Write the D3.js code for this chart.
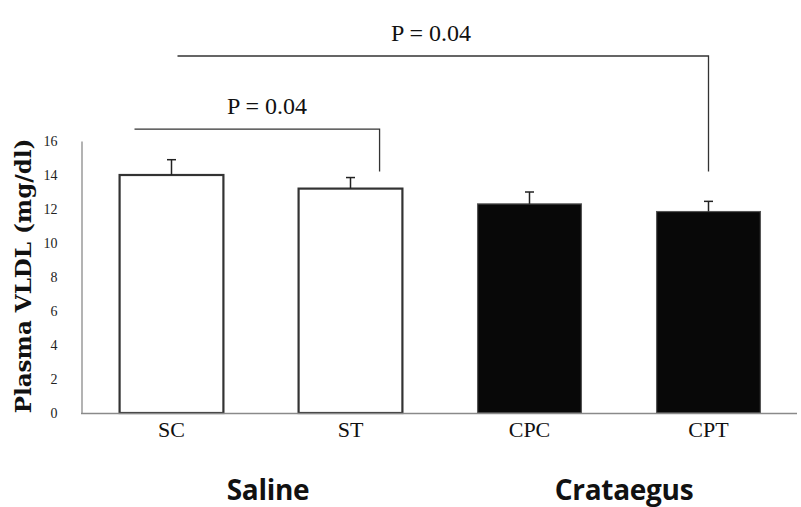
<!DOCTYPE html>
<html><head><meta charset="utf-8">
<script src="https://cdn.jsdelivr.net/npm/d3@7"></script>
<style>body{margin:0;background:#fff}svg{display:block}</style>
</head><body>
<script>
const categories = ["SC","ST","CPC","CPT"];
const values = [14.0, 13.2, 12.3, 11.85];
const errors = [0.9, 0.65, 0.7, 0.6];
const fills = ["#ffffff","#ffffff","#080808","#080808"];
const yTicks = [0,2,4,6,8,10,12,14,16];
const groups = [{label:"Saline", from:"SC", to:"ST"},{label:"Crataegus", from:"CPC", to:"CPT"}];
const comparisons = [
  {a:"SC", b:"ST", label:"P = 0.04", level:16.7},
  {a:"SC", b:"CPT", label:"P = 0.04", level:21.0}
];

const W=801,H=507;
const svg=d3.select("body").append("svg").attr("width",W).attr("height",H);
const y=d3.scaleLinear().domain([0,16]).range([413,141]);
const x=d3.scaleBand().domain(categories).range([82,798]).paddingInner(0.42).paddingOuter(0.21);

// axes
const yAxis=svg.append("g").attr("transform","translate(81.5,0)")
  .call(d3.axisLeft(y).tickValues(yTicks).tickSize(0).tickPadding(24));
yAxis.select(".domain").attr("stroke","#8a8a8a").attr("stroke-width",1.3);
yAxis.selectAll("text").attr("font-family","'Liberation Serif', serif").attr("font-size",14).attr("fill","#222");

// bars
svg.selectAll("rect.bar").data(categories).enter().append("rect")
  .attr("x",d=>x(d)).attr("width",x.bandwidth())
  .attr("y",(d,i)=>y(values[i])).attr("height",(d,i)=>y(0)-y(values[i]))
  .attr("fill",(d,i)=>fills[i]).attr("stroke",(d,i)=>i<2?"#333":"#555").attr("stroke-width",(d,i)=>i<2?2.2:1.2);

const xAxis=svg.append("g").attr("transform","translate(0,413.5)")
  .call(d3.axisBottom(x).tickSize(0).tickPadding(8).tickSizeOuter(0));
xAxis.select(".domain").attr("stroke","#8a8a8a").attr("stroke-width",1.3).attr("d","M81,0H797");
xAxis.selectAll("text").attr("font-family","'Liberation Serif', serif").attr("font-size",22).attr("fill","#111");

// error bars
categories.forEach((c,i)=>{
  const cx=x(c)+x.bandwidth()/2;
  const top=y(values[i]+errors[i]);
  svg.append("line").attr("x1",cx).attr("x2",cx).attr("y1",y(values[i])).attr("y2",top).attr("stroke","#222").attr("stroke-width",1.5);
  svg.append("line").attr("x1",cx-4.5).attr("x2",cx+4.5).attr("y1",top).attr("y2",top).attr("stroke","#222").attr("stroke-width",1.5);
});

// comparison brackets
comparisons.forEach((c,k)=>{
  const yl=y(c.level);
  const x1=x(c.a)+x.bandwidth()/2 - (k===0?37:-6);
  const x2=x(c.b)+x.bandwidth()*(k===0?0.78:0.5);
  const yEnd=y(14.2);
  svg.append("path").attr("d",`M${x1},${yl}H${x2}V${yEnd}`).attr("fill","none").attr("stroke","#333").attr("stroke-width",1.3);
  svg.append("text").attr("x",k===0?267:431).attr("y",yl-15).attr("text-anchor","middle")
    .attr("font-family","'Liberation Serif', serif").attr("font-size",24).attr("fill","#111").text(c.label);
});

// group labels
groups.forEach(g=>{
  const cx=(x(g.from)+x(g.to)+x.bandwidth())/2;
  svg.append("text").attr("x",cx+(g.label==="Saline"?7:5)).attr("y",500).attr("text-anchor","middle")
    .attr("font-family","'Open Sans', sans-serif").attr("font-weight","bold").attr("font-size",28).attr("letter-spacing","-0.3")
    .attr("fill","#111").text(g.label);
});

// y title
svg.append("text").attr("transform","translate(31,276) rotate(-90)").attr("text-anchor","middle")
  .attr("font-family","'DejaVu Serif', serif").attr("font-weight","bold").attr("font-size",23).attr("fill","#111")
  .text("Plasma VLDL (mg/dl)");
</script>
</body></html>
